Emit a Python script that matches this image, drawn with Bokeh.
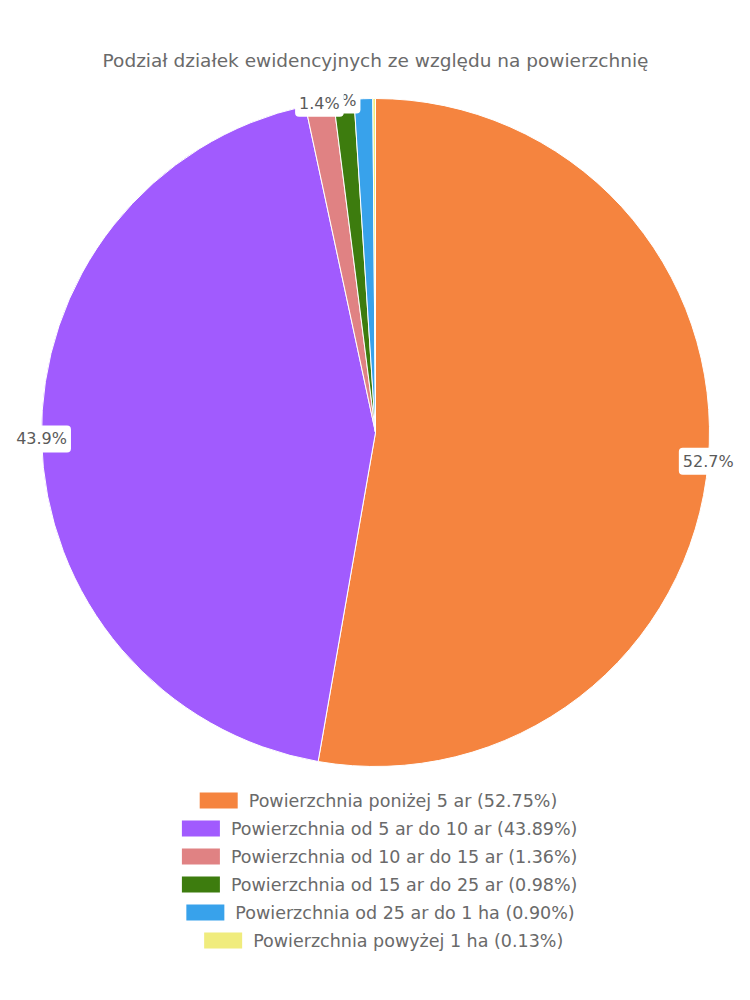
import math
from bokeh.plotting import figure
from bokeh.models import Range1d, ColumnDataSource
from bokeh.core.properties import value
from bokeh.embed import file_html
from bokeh.resources import INLINE

title = "Podział działek ewidencyjnych ze względu na powierzchnię"
categories = [
    "Powierzchnia poniżej 5 ar",
    "Powierzchnia od 5 ar do 10 ar",
    "Powierzchnia od 10 ar do 15 ar",
    "Powierzchnia od 15 ar do 25 ar",
    "Powierzchnia od 25 ar do 1 ha",
    "Powierzchnia powyżej 1 ha",
]
shares = [52.748, 43.886, 1.362, 0.978, 0.899, 0.127]
colors = ["#F5843F", "#A15BFE", "#E08283", "#3D7C0E", "#38A2EB", "#F0EC7D"]

W, H = 750, 1000
FONT = "DejaVu Sans"
CX, CY, R = 375, H - 432, 334

p = figure(width=W, height=H, output_backend="svg", toolbar_location=None,
           x_range=Range1d(0, W), y_range=Range1d(0, H), min_border=0)
p.axis.visible = False
p.grid.visible = False
p.outline_line_color = None

total = sum(shares)
cum = 0.0
starts, ends, mids = [], [], []
for v in shares:
    a0 = cum / total
    cum += v
    a1 = cum / total
    starts.append(math.pi / 2 - 2 * math.pi * a1)
    ends.append(math.pi / 2 - 2 * math.pi * a0)
    mids.append((a0 + a1) / 2)

src = ColumnDataSource(dict(start=starts, end=ends, color=colors))
p.wedge(x=CX, y=CY, radius=R, start_angle="start", end_angle="end",
        fill_color="color", line_color="white", line_width=1, source=src)

def fmt(v):
    s = f"{v:.1f}"
    if s.endswith(".0"):
        s = s[:-2]
    return s + "%"

# slice labels (drawn from smallest so larger ones overlay)
for i in reversed(range(len(shares))):
    if shares[i] < 0.95:
        continue
    ang = 2 * math.pi * mids[i]
    x = CX + R * math.sin(ang)
    y = CY + R * math.cos(ang)
    p.text(x=[x], y=[y], text=[fmt(shares[i] / total * 100)], text_align="center",
           text_baseline="middle", text_font=value(FONT), text_font_size="16px",
           text_color="#5a5a5a", background_fill_color="white", border_radius=4, padding=4)

# title
p.text(x=[W / 2], y=[H - 60], text=[title], text_align="center", text_baseline="middle",
       text_font=value(FONT), text_font_size="18.5px", text_color="#6a6a6a")

# legend (centered rows)
legend_labels = [f"{c} ({v / total * 100:.2f}%)" for c, v in zip(categories, shares)]
row0, step = 800, 28
bw, bh, gap = 38, 16, 11
char_w = 8.9
for i, (lab, col) in enumerate(zip(legend_labels, colors)):
    tw = len(lab) * char_w
    total_w = bw + gap + tw
    x0 = W / 2 - total_w / 2
    yc = H - (row0 + i * step)
    p.rect(x=[x0 + bw / 2], y=[yc], width=bw, height=bh, fill_color=col, line_color=None)
    p.text(x=[x0 + bw + gap], y=[yc], text=[lab], text_align="left", text_baseline="middle",
           text_font=value(FONT), text_font_size="17.5px", text_color="#6a6a6a")

open("out.html", "w").write(file_html(p, INLINE))
